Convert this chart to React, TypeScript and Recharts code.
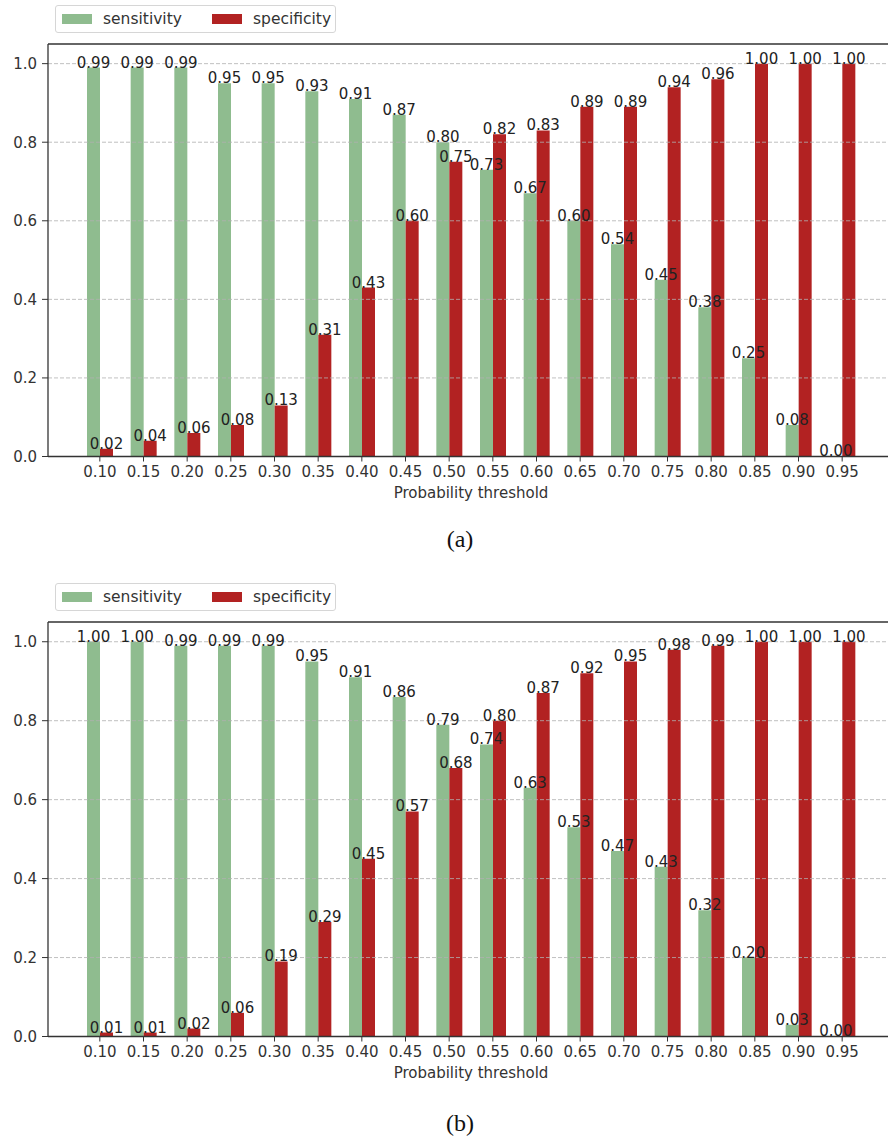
import React from 'react';
import {
  BarChart,
  Bar,
  XAxis,
  YAxis,
  LabelList,
  Legend,
  ReferenceLine,
} from 'recharts';

const thresholds = [
  '0.10', '0.15', '0.20', '0.25', '0.30', '0.35', '0.40', '0.45', '0.50',
  '0.55', '0.60', '0.65', '0.70', '0.75', '0.80', '0.85', '0.90', '0.95',
];

const sensitivityA = [0.99, 0.99, 0.99, 0.95, 0.95, 0.93, 0.91, 0.87, 0.8, 0.73, 0.67, 0.6, 0.54, 0.45, 0.38, 0.25, 0.08, 0.0];
const specificityA = [0.02, 0.04, 0.06, 0.08, 0.13, 0.31, 0.43, 0.6, 0.75, 0.82, 0.83, 0.89, 0.89, 0.94, 0.96, 1.0, 1.0, 1.0];

const sensitivityB = [1.0, 1.0, 0.99, 0.99, 0.99, 0.95, 0.91, 0.86, 0.79, 0.74, 0.63, 0.53, 0.47, 0.43, 0.32, 0.2, 0.03, 0.0];
const specificityB = [0.01, 0.01, 0.02, 0.06, 0.19, 0.29, 0.45, 0.57, 0.68, 0.8, 0.87, 0.92, 0.95, 0.98, 0.99, 1.0, 1.0, 1.0];

const yTicks = [0, 0.2, 0.4, 0.6, 0.8, 1.0];
const gridValues = [0.2, 0.4, 0.6, 0.8, 1.0];

const GREEN = '#8fbc8f';
const RED = '#b22222';
const FONT = '"DejaVu Sans", Verdana, sans-serif';
const INK = '#333333';
const FS = 15;

const buildData = (sens: number[], spec: number[]) =>
  thresholds.map((t, i) => ({ threshold: t, sensitivity: sens[i], specificity: spec[i] }));

const ValueLabel = (props: any) => {
  const { x, y, width, value } = props;
  if (x == null || y == null) return null;
  return (
    <text
      x={Number(x) + Number(width) / 2}
      y={Number(y)}
      textAnchor="middle"
      fontSize={FS}
      fontFamily={FONT}
      fill="#222"
    >
      {Number(value).toFixed(2)}
    </text>
  );
};

const LegendBox = (props: any) => {
  const payload = props.payload || [];
  return (
    <div
      style={{
        position: 'relative',
        width: 281,
        height: 28,
        border: '1px solid #d6d6d6',
        borderRadius: 3,
        background: '#fff',
        boxSizing: 'border-box',
        fontFamily: FONT,
        fontSize: 15.5,
        color: INK,
      }}
    >
      {payload.map((p: any, i: number) => (
        <div
          key={p.value}
          style={{
            position: 'absolute',
            left: 6 + i * 150,
            top: 0,
            height: 26,
            display: 'flex',
            alignItems: 'center',
            whiteSpace: 'nowrap',
          }}
        >
          <span style={{ display: 'inline-block', width: 30, height: 10, background: p.color, marginRight: 11 }} />
          <span>{p.value}</span>
        </div>
      ))}
    </div>
  );
};

type PanelProps = {
  data: any[];
  top: number;
  height: number;
  captionTop: number;
  caption: string;
};

const Panel = ({ data, top, height, captionTop, caption }: PanelProps) => (
  <>
    <div style={{ position: 'absolute', left: 0, top }}>
      <BarChart
        width={910}
        height={height}
        data={data}
        margin={{ top: 44, right: 16, bottom: 8.5, left: 0 }}
        barGap={0}
        barSize={13}
      >
        <XAxis
          dataKey="threshold"
          padding={{ left: 30, right: 30 }}
          height={45}
          tickSize={5}
          tickMargin={5}
          axisLine={{ stroke: INK, strokeWidth: 1.3 }}
          tickLine={{ stroke: INK }}
          tick={{ fontSize: FS, fill: INK, fontFamily: FONT }}
          interval={0}
          label={{
            value: 'Probability threshold',
            position: 'insideBottom',
            offset: 4,
            fontSize: FS,
            fill: INK,
            fontFamily: FONT,
          }}
        />
        <YAxis
          domain={[0, 1.05]}
          ticks={yTicks}
          allowDataOverflow
          width={48}
          tickSize={6}
          tickMargin={5}
          tickFormatter={(v: number) => v.toFixed(1)}
          axisLine={{ stroke: INK, strokeWidth: 1.3 }}
          tickLine={{ stroke: INK }}
          tick={{ fontSize: FS, fill: INK, fontFamily: FONT }}
        />
        <Legend
          layout="horizontal"
          verticalAlign="middle"
          align="center"
          content={<LegendBox />}
          wrapperStyle={{ position: 'absolute', left: 55, top: 5, width: 281, height: 28 }}
        />
        <Bar dataKey="sensitivity" name="sensitivity" fill={GREEN} minPointSize={0.01} isAnimationActive={false}>
          <LabelList dataKey="sensitivity" content={<ValueLabel />} />
        </Bar>
        <Bar dataKey="specificity" name="specificity" fill={RED} minPointSize={0.01} isAnimationActive={false}>
          <LabelList dataKey="specificity" content={<ValueLabel />} />
        </Bar>
        {gridValues.map((g) => (
          <ReferenceLine key={g} y={g} stroke="#b0b0b0" strokeOpacity={0.8} strokeDasharray="4 2" />
        ))}
        <ReferenceLine y={1.05} stroke={INK} strokeWidth={1.3} ifOverflow="visible" />
      </BarChart>
    </div>
    <div
      style={{
        position: 'absolute',
        left: 0,
        width: 920,
        top: captionTop,
        textAlign: 'center',
        fontFamily: '"Liberation Serif", "Times New Roman", serif',
        fontSize: 24,
        lineHeight: '24px',
        color: '#111',
      }}
    >
      {caption}
    </div>
  </>
);

export default function App() {
  const dataA = buildData(sensitivityA, specificityA);
  const dataB = buildData(sensitivityB, specificityB);
  return (
    <div
      style={{
        position: 'absolute',
        left: 0,
        top: 0,
        width: 888,
        height: 1136,
        overflow: 'hidden',
        background: '#fff',
      }}
    >
      <Panel data={dataA} top={0} height={510} captionTop={527} caption="(a)" />
      <Panel data={dataB} top={578} height={512} captionTop={1111} caption="(b)" />
    </div>
  );
}
